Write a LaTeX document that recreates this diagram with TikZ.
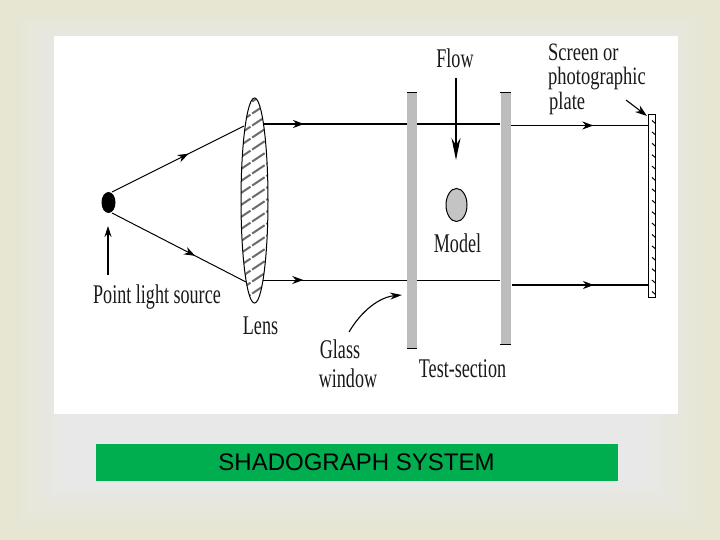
\documentclass[tikz,border=0pt]{standalone}
\usepackage{fontspec}
\usepackage{graphicx}
\setmainfont{Liberation Serif}
\newfontfamily\sansf{Liberation Sans}
\usetikzlibrary{arrows.meta,decorations.markings,shapes.geometric}
\definecolor{beige}{HTML}{E6E6D3}
\definecolor{inner}{HTML}{E8E8E8}
\definecolor{glass}{HTML}{BDBDBD}
\definecolor{modelc}{HTML}{C4C4C4}
\definecolor{bar}{HTML}{00AE4F}
\newcommand{\nar}[1]{\scalebox{.67}[1]{#1}}
\newcommand{\narb}[1]{\scalebox{.74}[1]{#1}}
\tikzset{
  lab/.style={inner sep=0pt,font=\fontsize{27}{29}\selectfont,text=black!90},
  labsmall/.style={inner sep=0pt,anchor=west,font=\fontsize{25}{27}\selectfont,text=black!90},
  ray/.style={line width=1pt,draw=black},
  thick ray/.style={line width=1.9pt,draw=black},
  midtip/.style={postaction={decorate},decoration={markings,mark=at position #1 with {\arrow{Stealth[length=11pt,width=8pt]}}}},
  thin arr/.style={line width=1.1pt,-{Stealth[length=11pt,width=7pt]}},
  pane/.style={rectangle,fill=glass,inner sep=0pt,minimum width=10pt},
}
\begin{document}
\begin{tikzpicture}[x=1pt,y=-1pt]
\useasboundingbox (0,0) rectangle (720,540);
\fill[beige] (0,0) rectangle (720,540);
\foreach \i in {0,...,40}{
  \pgfmathsetmacro{\pc}{100-2.5*\i}
  \fill[beige!\pc!inner] ({10+1.4*\i},{10+1.0*\i}) rectangle ({710-1.6*\i},{530-1.2*\i});
}
\fill[white] (54,36) rectangle (678,414);
\node[rectangle,fill=bar,minimum width=522pt,minimum height=37pt,inner sep=0pt,font=\sansf\fontsize{24}{26}\selectfont] (title) at (357,462.5) {\hspace{-1pt}SHADOGRAPH SYSTEM};

% lens
\node[ellipse,minimum width=27pt,minimum height=205pt,inner sep=0pt,fill=white] (lens) at (254.5,200.5) {};
\begin{scope}
\clip (254.5,200.5) ellipse [x radius=13.5, y radius=102.5];
\foreach \yy in {100,112,...,312}{
  \draw[black!58,line width=2pt,dash pattern=on 15pt off 2pt] (238,\yy+11) -- (271,\yy-11);
}
\end{scope}
\draw[black,line width=1pt] (254.5,200.5) ellipse [x radius=13.5, y radius=102.5];

% source
\node[ellipse,fill=black,minimum width=14pt,minimum height=21pt,inner sep=0pt] (src) at (108.5,202.5) {};

% windows
\node[pane,minimum height=255pt] (win1) at (412,220.5) {};
\node[pane,minimum height=251pt] (win2) at (505.5,218.5) {};
\draw[black,line width=1.4pt] (win1.north west) -- (win1.north east);
\draw[black,line width=1.4pt] (win2.north west) -- (win2.north east);
\draw[black,line width=.7pt] (win1.south west) -- (win1.south east);
\draw[black,line width=1.2pt] (win2.south west) -- (win2.south east);

% model
\node[ellipse,fill=modelc,draw=black,line width=1pt,minimum width=21pt,minimum height=33pt,inner sep=0pt] (model) at (456.5,205) {};

% plate
\node[rectangle,draw=black,line width=1pt,fill=white,minimum width=7pt,minimum height=183pt,inner sep=0pt] (plate) at (652,206) {};
\foreach \yy in {122,133.4,...,296}{
  \draw[black,line width=1pt] (652,\yy-1.5) -- (655.5,\yy+1.5);
}

% coordinates on rays
\coordinate (u1) at (264,124);
\coordinate (l1) at (263,280);
\coordinate (uA) at (112,192);
\coordinate (uB) at (244,126);
\coordinate (lA) at (112,213);
\coordinate (lB) at (246,282);
\coordinate (u2) at (510.5,125.5);
\coordinate (l2) at (512,285);
\coordinate (u3) at (648.5,125.5);
\coordinate (l3) at (648.5,285);

\draw[ray,midtip=.58] (uA) -- (uB);
\draw[ray,midtip=.62] (lA) -- (lB);
\draw[thick ray,midtip=.28] (u1) -- (win1.west |- u1);
\draw[ray,midtip=.28] (l1) -- (win1.west |- l1);
\draw[thick ray] (win1.east |- u1) -- (win2.west |- u1);
\draw[ray] (win1.east |- l1) -- (win2.west |- l1);
\draw[ray,midtip=.6] (u2) -- (u3);
\draw[thick ray,midtip=.6] (l2) -- (l3);

% labels
\node[lab] (lpls) at (157,297) {\nar{Point light source}};
\node[lab] (llens) at (260.5,326) {\nar{Lens}};
\node[lab] (lflow) at (455,58) {\nar{Flow}};
\node[lab] (lmodel) at (457.5,243) {\nar{Model}};
\node[lab] (ltest) at (462.5,369) {\nar{Test-section}};
\node[lab] (lglass) at (340,349) {\nar{Glass}};
\node[lab] (lwindow) at (348,378) {\nar{window}};
\node[labsmall] (lscreen) at (548,52.5) {\narb{Screen or}};
\node[labsmall] (lphoto) at (548,78.5) {\narb{photographic}};
\node[labsmall] (lplate) at (549,103) {\narb{plate}};

% pointers
\coordinate (pA) at (108,275);
\coordinate (pB) at (108,226);
\draw[thin arr] (pA) -- (pB);
\coordinate (fA) at (456,78);
\coordinate (fB) at (456,160);
\draw[line width=1.4pt,-{Stealth[length=22pt,width=9pt]}] (fA) -- (fB);
\coordinate (gA) at (349,332);
\coordinate (gB) at (402,295);
\draw[line width=1.1pt,-{Stealth[length=12pt,width=7pt]}] (gA) .. controls (362,310) and (380,297) .. (gB);
\coordinate (sA) at (626,100);
\coordinate (sB) at (647,116);
\draw[line width=1.1pt,-{Stealth[length=12pt,width=8pt]}] (sA) -- (sB);
\end{tikzpicture}
\end{document}
